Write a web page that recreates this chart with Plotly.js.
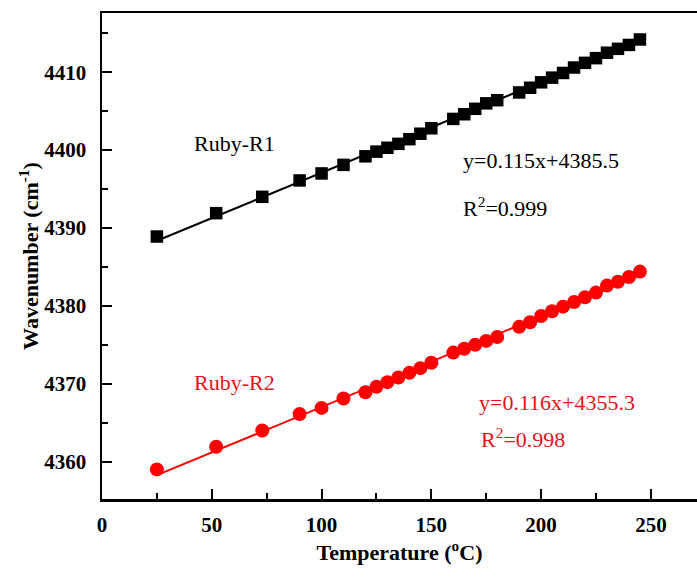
<!DOCTYPE html>
<html>
<head>
<meta charset="utf-8">
<script src="https://cdn.plot.ly/plotly-3.0.1.min.js"></script>
<style>html,body{margin:0;padding:0;background:#fff;}#chart{width:697px;height:579px;}</style>
</head>
<body>
<div id="chart"></div>
<script>
// Temperature (°C)
const temperature = [25, 52, 73, 90, 100, 110, 120, 125, 130, 135, 140, 145, 150, 160, 165, 170, 175, 180, 190, 195, 200, 205, 210, 215, 220, 225, 230, 235, 240, 245];
// Ruby-R1 wavenumber (cm-1)
const rubyR1 = [4388.9, 4391.9, 4394.0, 4396.1, 4397.0, 4398.1, 4399.2, 4399.8, 4400.3, 4400.8, 4401.4, 4402.1, 4402.8, 4404.0, 4404.6, 4405.3, 4406.0, 4406.4, 4407.4, 4408.0, 4408.7, 4409.3, 4409.9, 4410.6, 4411.2, 4411.8, 4412.5, 4413.0, 4413.5, 4414.2];
// Ruby-R2 wavenumber (cm-1)
const rubyR2 = [4359.0, 4361.9, 4364.0, 4366.1, 4366.9, 4368.1, 4368.9, 4369.6, 4370.2, 4370.8, 4371.4, 4372.0, 4372.7, 4374.0, 4374.5, 4375.0, 4375.5, 4376.0, 4377.3, 4377.9, 4378.7, 4379.3, 4379.9, 4380.5, 4381.1, 4381.7, 4382.6, 4383.1, 4383.7, 4384.4];

const seriesNames = ["Ruby-R1", "Ruby-R2"];
const fitLabels = ["y=0.115x+4385.5", "y=0.116x+4355.3"];
const r2Labels = ["R<sup>2</sup>=0.999", "R<sup>2</sup>=0.998"];

function linfit(x, y) {
  const n = x.length;
  let sx = 0, sy = 0, sxx = 0, sxy = 0;
  for (let i = 0; i < n; i++) { sx += x[i]; sy += y[i]; sxx += x[i]*x[i]; sxy += x[i]*y[i]; }
  const m = (n*sxy - sx*sy) / (n*sxx - sx*sx);
  const b = (sy - m*sx) / n;
  return {m, b};
}
function fitTrace(x, y, color) {
  const f = linfit(x, y);
  const xs = [Math.min(...x), Math.max(...x)];
  return {x: xs, y: xs.map(v => f.m*v + f.b), mode: 'lines', line: {color: color, width: 2}, showlegend: false, hoverinfo: 'skip'};
}

const black = '#000000';
const red = '#ff0000';
const redText = '#e3141c';

const traces = [
  fitTrace(temperature, rubyR1, black),
  fitTrace(temperature, rubyR2, red),
  {x: temperature, y: rubyR1, name: seriesNames[0], mode: 'markers', marker: {symbol: 'square', size: 12.5, color: black}, showlegend: false},
  {x: temperature, y: rubyR2, name: seriesNames[1], mode: 'markers', marker: {symbol: 'circle', size: 14, color: red}, showlegend: false}
];

const annFont = {family: '"Liberation Serif", "Times New Roman", serif', size: 22};
const annotations = [
  {x: 41.0, y: 4400.9, text: seriesNames[0], color: black},
  {x: 163.6, y: 4398.7, text: fitLabels[0], color: black},
  {x: 163.6, y: 4392.7, text: r2Labels[0], color: black},
  {x: 41.0, y: 4370.1, text: seriesNames[1], color: redText},
  {x: 170.6, y: 4367.6, text: fitLabels[1], color: redText},
  {x: 171.5, y: 4363.0, text: r2Labels[1], color: redText}
].map(a => ({x: a.x, y: a.y, xref: 'x', yref: 'y', text: a.text, showarrow: false, xanchor: 'left', yanchor: 'middle',
  font: Object.assign({}, annFont, {color: a.color})}));

const tickFont = {family: '"Liberation Serif", "Times New Roman", serif', size: 21, color: '#000', weight: 'bold'};
const titleFont = {family: '"Liberation Serif", "Times New Roman", serif', size: 22, color: '#000', weight: 'bold'};

const layout = {
  width: 697, height: 579,
  margin: {l: 102, r: 0, t: 13, b: 80},
  paper_bgcolor: '#fff', plot_bgcolor: '#fff',
  showlegend: false,
  xaxis: {
    range: [0, 271], tickmode: 'linear', tick0: 0, dtick: 50,
    ticks: 'inside', ticklen: 10, tickwidth: 2, tickcolor: '#000',
    minor: {ticks: 'inside', ticklen: 6, tickwidth: 2, dtick: 25, tick0: 0, tickcolor: '#000'},
    showline: true, linecolor: '#000', linewidth: 2.5, mirror: true,
    showgrid: false, zeroline: false,
    tickfont: tickFont, ticklabelstandoff: 5,
    title: {text: 'Temperature (<sup>o</sup>C)', font: titleFont, standoff: 8}
  },
  yaxis: {
    range: [4355.2, 4417.6], tickmode: 'linear', tick0: 4360, dtick: 10,
    ticks: 'inside', ticklen: 10, tickwidth: 2, tickcolor: '#000',
    minor: {ticks: 'inside', ticklen: 6, tickwidth: 2, dtick: 5, tick0: 4360, tickcolor: '#000'},
    showline: true, linecolor: '#000', linewidth: 2.5, mirror: false,
    showgrid: false, zeroline: false,
    tickfont: tickFont, ticklabelstandoff: 9,
    title: {text: 'Wavenumber (cm<sup>-1</sup>)', font: titleFont, standoff: 0}
  },
  annotations: annotations
};

Plotly.newPlot('chart', traces, layout, {displayModeBar: false, staticPlot: true});
</script>
</body>
</html>
